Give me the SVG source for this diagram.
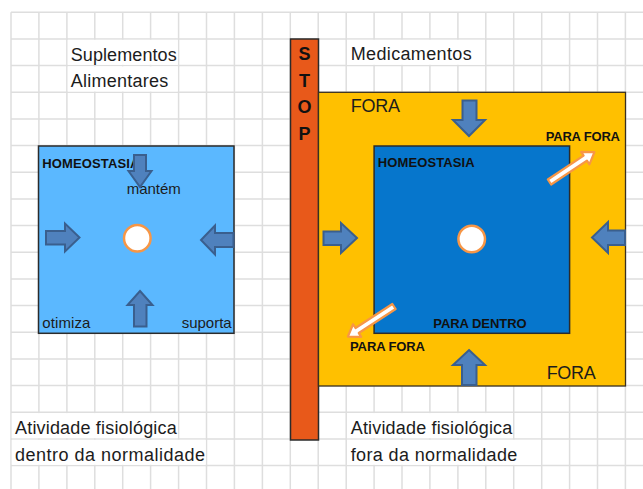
<svg xmlns="http://www.w3.org/2000/svg" width="643" height="489" viewBox="0 0 643 489">
<defs>
<style>
.grid{stroke:#dedede;stroke-width:1.5;fill:none}
.bg{fill:#ffffff}
.t{font-family:"Liberation Sans",Arial,sans-serif;font-size:18px;fill:#1c1c1c}
.b{font-family:"Liberation Sans",Arial,sans-serif;font-size:13px;font-weight:bold;fill:#111}
.s{font-family:"Liberation Sans",Arial,sans-serif;font-size:15px;fill:#1c1c1c}
.stop{font-family:"Liberation Sans",Arial,sans-serif;font-size:18px;font-weight:bold;fill:#111}
.barr{fill:#4F81BD;stroke:#3A5F8E;stroke-width:2;stroke-linejoin:miter}
.oarr{fill:#ffffff;stroke:#F79646;stroke-width:2.2;stroke-linejoin:round}
.ring{fill:#ffffff;stroke:#F79646;stroke-width:2.5}
</style>
</defs>
<rect width="643" height="489" fill="#ffffff"/>
<g id="grid">
<path class="grid" d="M11,12.3V489 M38.9,12.3V489 M66.9,12.3V489 M94.8,12.3V489 M122.7,12.3V489 M150.6,12.3V489 M178.6,12.3V489 M206.5,12.3V489 M234.4,12.3V489 M262.4,12.3V489 M290.3,12.3V489 M318.2,12.3V489 M346.2,12.3V489 M374.1,12.3V489 M402,12.3V489 M429.9,12.3V489 M457.9,12.3V489 M485.8,12.3V489 M513.7,12.3V489 M541.7,12.3V489 M569.6,12.3V489 M597.5,12.3V489 M625.4,12.3V489
M11,12.3H643 M11,39H643 M11,65.6H643 M11,92.3H643 M11,119H643 M11,145.6H643 M11,172.3H643 M11,199H643 M11,225.6H643 M11,252.3H643 M11,279H643 M11,305.6H643 M11,332.3H643 M11,359H643 M11,385.6H643 M11,412.3H643 M11,439H643 M11,465.6H643"/>
<rect class="bg" x="67.7" y="39.8" width="110.1" height="25"/>
<rect class="bg" x="67.7" y="66.4" width="110.1" height="25.1"/>
<rect class="bg" x="347" y="39.8" width="138" height="25"/>
<rect class="bg" x="11.8" y="413.1" width="166" height="25.1"/>
<rect class="bg" x="11.8" y="439.8" width="193.9" height="25"/>
<rect class="bg" x="347" y="413.1" width="165.9" height="25.1"/>
<rect class="bg" x="347" y="439.8" width="193.9" height="25"/>
</g>
<g id="label-suplementos">
<text class="t" x="70.7" y="60.5" textLength="106" lengthAdjust="spacing">Suplementos</text>
<text class="t" x="70.7" y="87" textLength="97.6" lengthAdjust="spacing">Alimentares</text>
</g>
<g id="label-medicamentos">
<text class="t" x="350.7" y="60" textLength="121" lengthAdjust="spacing">Medicamentos</text>
</g>
<g id="label-dentro">
<text class="t" x="15" y="434.3" textLength="161.7" lengthAdjust="spacing">Atividade fisiológica</text>
<text class="t" x="15" y="461" textLength="190" lengthAdjust="spacing">dentro da normalidade</text>
</g>
<g id="label-fora-normal">
<text class="t" x="350.7" y="434" textLength="161.6" lengthAdjust="spacing">Atividade fisiológica</text>
<text class="t" x="350.7" y="460.5" textLength="166.6" lengthAdjust="spacing">fora da normalidade</text>
</g>
<g id="left-box">
<rect x="38.5" y="146" width="195.5" height="187.3" fill="#5BB8FF" stroke="#2b2b2b" stroke-width="1.5"/>
<text class="b" x="42.3" y="168.3" textLength="97" lengthAdjust="spacing">HOMEOSTASIA</text>
<text class="s" x="126.7" y="194.3" textLength="54" lengthAdjust="spacing">mantém</text>
<text class="s" x="42.3" y="328.3" textLength="48" lengthAdjust="spacing">otimiza</text>
<text class="s" x="181.7" y="328.3" textLength="50" lengthAdjust="spacing">suporta</text>
<circle class="ring" cx="137.3" cy="238.3" r="13.3"/>
</g>
<g id="stop-bar">
<rect x="290.5" y="39" width="28" height="401" fill="#E8591A" stroke="#2b2b2b" stroke-width="1.5"/>
<text class="stop" x="304.5" y="60" text-anchor="middle">S</text>
<text class="stop" x="304.5" y="86.6" text-anchor="middle">T</text>
<text class="stop" x="304.5" y="113.2" text-anchor="middle">O</text>
<text class="stop" x="304.5" y="139.8" text-anchor="middle">P</text>
</g>
<g id="outer-box">
<rect x="318.5" y="92.3" width="307" height="293.7" fill="#FFC000" stroke="#3a3020" stroke-width="1.3"/>
<text class="t" x="350.7" y="111.7" textLength="49.3" lengthAdjust="spacing">FORA</text>
<text class="t" x="546.7" y="379" textLength="49" lengthAdjust="spacing">FORA</text>
<text class="b" x="545.7" y="141" textLength="74.3" lengthAdjust="spacing">PARA FORA</text>
<text class="b" x="350" y="351" textLength="75" lengthAdjust="spacing">PARA FORA</text>
</g>
<g id="inner-box">
<rect x="374.1" y="146" width="195.5" height="187.3" fill="#0676CC" stroke="#2b2b2b" stroke-width="1.5"/>
<text class="b" x="377.7" y="167.3" textLength="97" lengthAdjust="spacing">HOMEOSTASIA</text>
<text class="b" x="433.3" y="328.3" textLength="93.3" lengthAdjust="spacing">PARA DENTRO</text>
<circle class="ring" cx="471.7" cy="239" r="13.3"/>
</g>
<g id="connectors">
<path class="barr" d="M134,155 H146 V171 H151.5 L140,187 L128.5,171 H134 Z"/>
<path class="barr" d="M46,231 H65 V223.5 L79.5,237.5 L65,251.5 V244.5 H46 Z"/>
<path class="barr" d="M233.5,233 H215 V225.5 L201,240 L215,254.5 V247 H233.5 Z"/>
<path class="barr" d="M140,291 L152.5,305 H146.5 V326.5 H134 V305 H127.5 Z"/>
<path class="barr" d="M462.5,100.5 H476.5 V120 H485 L469,136 L453,120 H462.5 Z"/>
<path class="barr" d="M323.5,231.5 H341 V223 L357,238 L341,253 V245 H323.5 Z"/>
<path class="barr" d="M625,230.5 H608 V222 L592,237.5 L608,253 V245 H625 Z"/>
<path class="barr" d="M469,350 L485,365 H476.5 V385 H462 V365 H453 Z"/>
<path class="oarr" transform="translate(549.5,182) rotate(-33.7)" d="M0,-3 H43 V-7.5 L54,0 L43,7.5 V3 H0 Z"/>
<path class="oarr" transform="translate(394,306.5) rotate(146.9)" d="M0,-3 H44 V-7.5 L55,0 L44,7.5 V3 H0 Z"/>
</g>
</svg>
